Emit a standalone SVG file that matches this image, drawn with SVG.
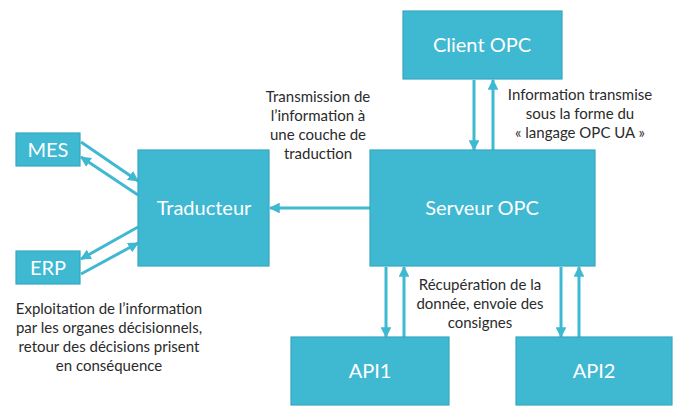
<svg xmlns="http://www.w3.org/2000/svg" width="673" height="406" viewBox="0 0 673 406">
<style>
.box{fill:#3fb8d2;stroke:#35a7c0;stroke-width:1.2}
.bt{font-family:Lato,"Liberation Sans",sans-serif;font-size:20px;fill:#ffffff;text-anchor:middle}
.lb{font-family:Lato,"Liberation Sans",sans-serif;font-size:15px;fill:#2b2b2b;text-anchor:middle}
.ln{stroke:#3fb8d2;stroke-width:3;fill:none}
</style>
<defs>
<marker id="ah" viewBox="0 0 10 10" refX="9" refY="5" markerWidth="3.6" markerHeight="3.6" orient="auto" markerUnits="strokeWidth">
<path d="M0,0 L10,5 L0,10 z" fill="#3fb8d2"/>
</marker>
</defs>
<rect width="673" height="406" fill="#ffffff"/>
<g id="connectors">
<line class="ln" x1="474" y1="80" x2="474" y2="150" marker-end="url(#ah)"/>
<line class="ln" x1="493" y1="150" x2="493" y2="80" marker-end="url(#ah)"/>
<line class="ln" x1="370" y1="208" x2="270" y2="208" marker-end="url(#ah)"/>
<line class="ln" x1="386" y1="267" x2="386" y2="337" marker-end="url(#ah)"/>
<line class="ln" x1="404" y1="337" x2="404" y2="267" marker-end="url(#ah)"/>
<line class="ln" x1="561" y1="267" x2="561" y2="337" marker-end="url(#ah)"/>
<line class="ln" x1="579" y1="337" x2="579" y2="267" marker-end="url(#ah)"/>
<line class="ln" x1="81" y1="142" x2="138" y2="181" marker-end="url(#ah)"/>
<line class="ln" x1="138" y1="195" x2="81" y2="157" marker-end="url(#ah)"/>
<line class="ln" x1="138" y1="227" x2="81" y2="259" marker-end="url(#ah)"/>
<line class="ln" x1="81" y1="274" x2="138" y2="243" marker-end="url(#ah)"/>
</g>
<g id="mes"><rect class="box" x="16" y="133" width="64" height="33"/><text class="bt" x="48" y="157">MES</text></g>
<g id="erp"><rect class="box" x="16" y="251" width="64" height="33"/><text class="bt" x="48" y="275">ERP</text></g>
<g id="traducteur"><rect class="box" x="138" y="150" width="131" height="116"/><text class="bt" x="204" y="215">Traducteur</text></g>
<g id="client-opc"><rect class="box" x="403" y="11" width="159" height="68"/><text class="bt" x="482" y="52">Client OPC</text></g>
<g id="serveur-opc"><rect class="box" x="370" y="150" width="225" height="116"/><text class="bt" x="482" y="215">Serveur OPC</text></g>
<g id="api1"><rect class="box" x="291" y="337" width="158" height="68"/><text class="bt" x="370" y="378">API1</text></g>
<g id="api2"><rect class="box" x="516" y="337" width="156" height="68"/><text class="bt" x="594" y="378">API2</text></g>
<g id="labels">
<text class="lb" x="318" y="102">Transmission de</text>
<text class="lb" x="318" y="121">l’information à</text>
<text class="lb" x="318" y="140">une couche de</text>
<text class="lb" x="318" y="159">traduction</text>
<text class="lb" x="580" y="100">Information transmise</text>
<text class="lb" x="580" y="119">sous la forme du</text>
<text class="lb" x="580" y="138">« langage OPC UA »</text>
<text class="lb" x="480" y="290">Récupération de la</text>
<text class="lb" x="480" y="309">donnée, envoie des</text>
<text class="lb" x="480" y="328">consignes</text>
<text class="lb" x="109" y="314">Exploitation de l’information</text>
<text class="lb" x="109" y="333">par les organes décisionnels,</text>
<text class="lb" x="109" y="352">retour des décisions prisent</text>
<text class="lb" x="109" y="371">en conséquence</text>
</g>
</svg>
